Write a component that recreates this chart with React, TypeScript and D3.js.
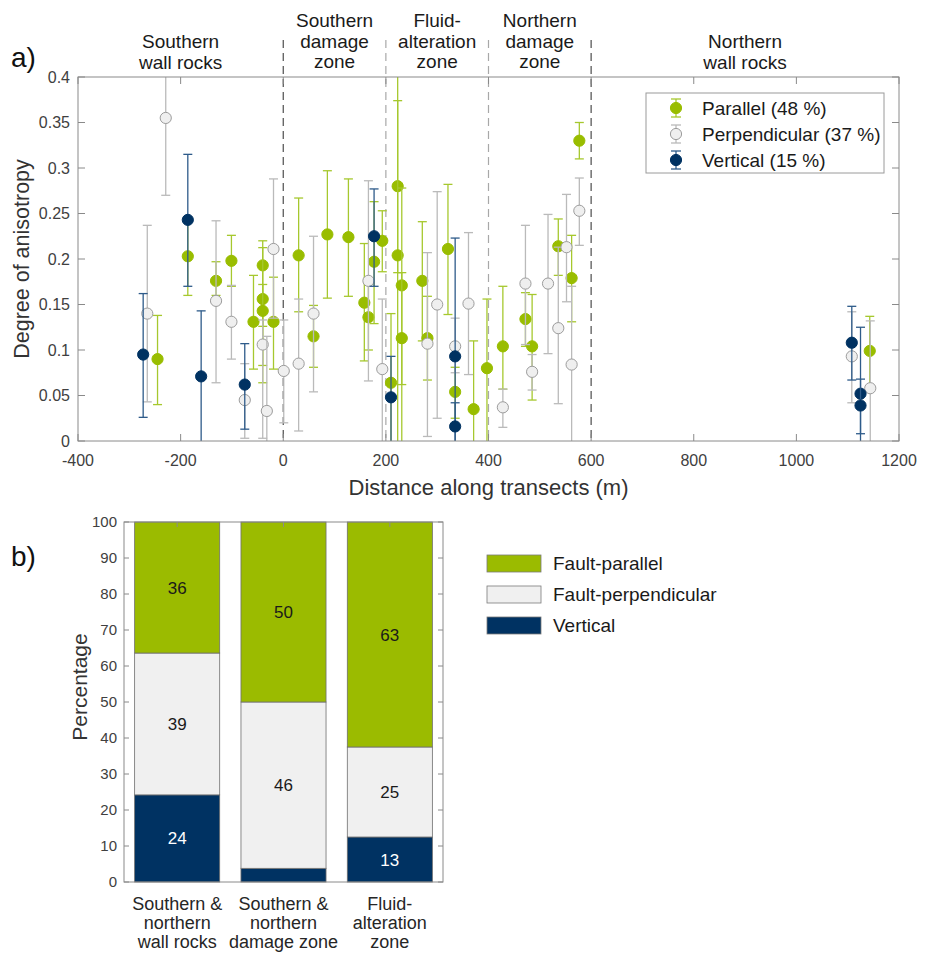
import React from "react";
import * as d3 from "d3";

// each point: [distance (m), degree of anisotropy, lower error, upper error]
const parallel = [
  [-245, 0.09, 0.04, 0.138],
  [-186, 0.203, 0.16, 0.245],
  [-131, 0.176, 0.16, 0.197],
  [-101, 0.198, 0.17, 0.226],
  [-58, 0.131, 0.079, 0.182],
  [-40, 0.193, 0.064, 0.22],
  [-40, 0.156, 0.126, 0.2125],
  [-40, 0.143, 0.083, 0.172],
  [-19, 0.131, 0.079, 0.18],
  [30, 0.204, 0.142, 0.267],
  [59, 0.115, 0.081, 0.149],
  [86, 0.227, 0.157, 0.297],
  [127, 0.224, 0.159, 0.288],
  [158, 0.152, 0.088, 0.217],
  [166, 0.136, 0.1, 0.175],
  [177, 0.197, 0.129, 0.263],
  [193, 0.22, 0.186, 0.253],
  [210, 0.064, -0.02, 0.14],
  [223, 0.28, 0.185, 0.374],
  [223, 0.204, -0.02, 0.43],
  [231, 0.171, 0.062, 0.278],
  [231, 0.113, -0.02, 0.185],
  [271, 0.176, 0.11, 0.241],
  [281, 0.113, 0.067, 0.159],
  [321, 0.211, 0.139, 0.282],
  [335, 0.054, 0.025, 0.081],
  [371, 0.035, -0.02, 0.11],
  [397, 0.08, -0.02, 0.156],
  [428, 0.104, 0.057, 0.17],
  [472, 0.134, 0.104, 0.163],
  [485, 0.104, 0.045, 0.161],
  [536, 0.214, 0.182, 0.244],
  [562, 0.179, 0.131, 0.226],
  [577, 0.33, 0.31, 0.35],
  [1143, 0.099, 0.06, 0.137],
];

const perpendicular = [
  [-265, 0.14, 0.043, 0.237],
  [-229, 0.355, 0.27, 0.44],
  [-131, 0.154, 0.064, 0.242],
  [-101, 0.131, 0.09, 0.171],
  [-75, 0.045, 0.003, 0.085],
  [-40, 0.106, 0.003, 0.133],
  [-32, 0.033, -0.02, 0.115],
  [-19, 0.211, 0.135, 0.288],
  [1, 0.077, 0.02, 0.133],
  [30, 0.085, 0.011, 0.156],
  [59, 0.14, 0.054, 0.225],
  [166, 0.176, 0.066, 0.286],
  [193, 0.079, -0.02, 0.156],
  [281, 0.107, 0.005, 0.207],
  [300, 0.15, 0.025, 0.274],
  [335, 0.104, 0.075, 0.135],
  [361, 0.151, 0.073, 0.229],
  [428, 0.037, 0.015, 0.057],
  [472, 0.173, 0.106, 0.237],
  [485, 0.076, 0.056, 0.095],
  [516, 0.173, 0.096, 0.249],
  [536, 0.124, 0.041, 0.213],
  [552, 0.213, 0.153, 0.271],
  [562, 0.084, -0.02, 0.17],
  [577, 0.253, 0.215, 0.289],
  [1108, 0.093, 0.042, 0.142],
  [1144, 0.058, -0.02, 0.132],
];

const vertical = [
  [-273, 0.095, 0.026, 0.162],
  [-186, 0.243, 0.17, 0.315],
  [-160, 0.071, -0.02, 0.143],
  [-75, 0.062, 0.013, 0.107],
  [177, 0.225, 0.17, 0.277],
  [210, 0.048, -0.02, 0.093],
  [335, 0.093, -0.02, 0.223],
  [335, 0.016, -0.02, 0.042],
  [1108, 0.108, 0.067, 0.148],
  [1125, 0.052, 0.008, 0.125],
  [1125, 0.039, -0.02, 0.068],
];

const seriesNames = ["Parallel (48 %)", "Perpendicular (37 %)", "Vertical (15 %)"];
const xTicks = [-400, -200, 0, 200, 400, 600, 800, 1000, 1200];
const yTicks = [0, 0.05, 0.1, 0.15, 0.2, 0.25, 0.3, 0.35, 0.4];
const zoneBounds = [0, 200, 400, 600];
const zoneCenters = [-200, 100, 300, 500, 900];
const zoneNames = [
  ["Southern", "wall rocks"],
  ["Southern", "damage", "zone"],
  ["Fluid-", "alteration", "zone"],
  ["Northern", "damage", "zone"],
  ["Northern", "wall rocks"],
];

// panel b
const groupLabels = [
  ["Southern &", "northern", "wall rocks"],
  ["Southern &", "northern", "damage zone"],
  ["Fluid-", "alteration", "zone"],
];
const verticalPct = [24.2, 3.8, 12.5];
const perpendicularPct = [39.4, 46.2, 25.0];
const parallelPct = [36.4, 50.0, 62.5];
const pctTicks = [0, 10, 20, 30, 40, 50, 60, 70, 80, 90, 100];
const barKeys = ["Vertical", "Fault-perpendicular", "Fault-parallel"];

const FONT = "'Liberation Sans', Arial, Helvetica, sans-serif";
const AXIS = "#8a8a8a";
const TICKTXT = "#404040";

const styles = [
  { fill: "#99bd00", stroke: "#99bd00", bar: "#a6c82e" },
  { fill: "#efefef", stroke: "#9c9c9c", bar: "#bababa" },
  { fill: "#003262", stroke: "#003262", bar: "#2e5b8a" },
];
const barFill: Record<string, string> = {
  Vertical: "#003262",
  "Fault-perpendicular": "#f0f0f0",
  "Fault-parallel": "#9bbb00",
};

const W = 925;
const H = 953;
const a = { left: 78, right: 899, top: 77, bottom: 441 };
const b = { left: 124, right: 443, top: 522, bottom: 882 };

function ErrPoint({ d, st, x, y }: any) {
  const [px, py, lo, hi] = d;
  const cx = x(px);
  const cap = 4.5;
  return (
    <g>
      <line x1={cx} x2={cx} y1={y(lo)} y2={y(hi)} stroke={st.bar} strokeWidth={1.3} />
      <line x1={cx - cap} x2={cx + cap} y1={y(lo)} y2={y(lo)} stroke={st.bar} strokeWidth={1.3} />
      <line x1={cx - cap} x2={cx + cap} y1={y(hi)} y2={y(hi)} stroke={st.bar} strokeWidth={1.3} />
      <circle cx={cx} cy={y(py)} r={5.6} fill={st.fill} stroke={st.stroke} strokeWidth={1} />
    </g>
  );
}

export default function App() {
  const x = d3.scaleLinear().domain([-400, 1200]).range([a.left, a.right]);
  const y = d3.scaleLinear().domain([0, 0.4]).range([a.bottom, a.top]);

  const band = d3
    .scaleBand<number>()
    .domain([0, 1, 2])
    .range([b.left, b.right])
    .paddingInner(0.2)
    .paddingOuter(0.1);
  const yb = d3.scaleLinear().domain([0, 100]).range([b.bottom, b.top]);

  const rows = groupLabels.map((_, i) => ({
    i,
    Vertical: verticalPct[i],
    "Fault-perpendicular": perpendicularPct[i],
    "Fault-parallel": parallelPct[i],
  }));
  const stacked = d3.stack<any>().keys(barKeys)(rows);

  const allSeries = [parallel, perpendicular, vertical];

  return (
    <svg
      width={W}
      height={H}
      style={{ position: "absolute", left: 0, top: 0, background: "#fff" }}
      fontFamily={FONT}
    >
      <defs>
        <clipPath id="clipA">
          <rect x={a.left} y={a.top} width={a.right - a.left} height={a.bottom - a.top} />
        </clipPath>
      </defs>
      <rect width={W} height={H} fill="#fff" />

      {/* ---------- panel a ---------- */}
      <text x={11} y={67} fontSize={28} fill="#111">a)</text>

      {zoneNames.map((lines, i) => {
        const base = lines.length === 3 ? 27 : 48;
        return (
          <text key={i} x={x(zoneCenters[i])} textAnchor="middle" fontSize={19} fill="#1a1a1a">
            {lines.map((l, j) => (
              <tspan key={j} x={x(zoneCenters[i])} y={base + j * 20.5}>{l}</tspan>
            ))}
          </text>
        );
      })}

      {zoneBounds.map((v) => (
        <line
          key={v}
          x1={x(v)}
          x2={x(v)}
          y1={40}
          y2={a.bottom}
          stroke={v === 0 || v === 600 ? "#4d4d4d" : "#a8a8a8"}
          strokeWidth={1.2}
          strokeDasharray="8,5"
        />
      ))}

      <g clipPath="url(#clipA)">
        {allSeries.map((s, si) =>
          s.map((d, i) => <ErrPoint key={`${si}-${i}`} d={d} st={styles[si]} x={x} y={y} />)
        )}
      </g>

      {/* box and ticks */}
      <rect x={a.left} y={a.top} width={a.right - a.left} height={a.bottom - a.top} fill="none" stroke={AXIS} strokeWidth={1} />
      {xTicks.map((t) => (
        <g key={t}>
          <line x1={x(t)} x2={x(t)} y1={a.bottom} y2={a.bottom - 7} stroke={AXIS} />
          <line x1={x(t)} x2={x(t)} y1={a.top} y2={a.top + 7} stroke={AXIS} />
          <text x={x(t)} y={466} textAnchor="middle" fontSize={16} fill={TICKTXT}>{t}</text>
        </g>
      ))}
      {yTicks.map((t) => (
        <g key={t}>
          <line x1={a.left} x2={a.left + 7} y1={y(t)} y2={y(t)} stroke={AXIS} />
          <line x1={a.right} x2={a.right - 7} y1={y(t)} y2={y(t)} stroke={AXIS} />
          <text x={70} y={y(t) + 5.5} textAnchor="end" fontSize={16} fill={TICKTXT}>{t}</text>
        </g>
      ))}
      <text x={(a.left + a.right) / 2} y={495} textAnchor="middle" fontSize={22} fill="#333">
        Distance along transects (m)
      </text>
      <text
        transform={`translate(29,${(a.top + a.bottom) / 2}) rotate(-90)`}
        textAnchor="middle"
        fontSize={21.5}
        fill="#333"
      >
        Degree of anisotropy
      </text>

      {/* legend a */}
      <rect x={646} y={93} width={238} height={80} fill="#fff" stroke="#9a9a9a" strokeWidth={1} />
      {seriesNames.map((n, i) => {
        const cy = 108 + i * 26;
        const st = styles[i];
        return (
          <g key={n}>
            <line x1={676} x2={676} y1={cy - 9} y2={cy + 9} stroke={st.bar} strokeWidth={1.3} />
            <line x1={671} x2={681} y1={cy - 9} y2={cy - 9} stroke={st.bar} strokeWidth={1.3} />
            <line x1={671} x2={681} y1={cy + 9} y2={cy + 9} stroke={st.bar} strokeWidth={1.3} />
            <circle cx={676} cy={cy} r={5.6} fill={st.fill} stroke={st.stroke} />
            <text x={702} y={cy + 7} fontSize={19} fill="#1a1a1a">{n}</text>
          </g>
        );
      })}

      {/* ---------- panel b ---------- */}
      <text x={11} y={566} fontSize={28} fill="#111">b)</text>

      {stacked.map((layer) =>
        layer.map((seg, i) => {
          const val = seg[1] - seg[0];
          const bx = band(i)!;
          const key = layer.key;
          return (
            <g key={`${key}-${i}`}>
              <rect
                x={bx}
                y={yb(seg[1])}
                width={band.bandwidth()}
                height={yb(seg[0]) - yb(seg[1])}
                fill={barFill[key]}
                stroke="#6e6e6e"
                strokeWidth={0.8}
              />
              {val >= 5 && (
                <text
                  x={bx + band.bandwidth() / 2}
                  y={(yb(seg[0]) + yb(seg[1])) / 2 + 6}
                  textAnchor="middle"
                  fontSize={17}
                  fill={key === "Vertical" ? "#fff" : "#1a1a1a"}
                >
                  {Math.round(val)}
                </text>
              )}
            </g>
          );
        })
      )}

      <rect x={b.left} y={b.top} width={b.right - b.left} height={b.bottom - b.top} fill="none" stroke={AXIS} strokeWidth={1} />
      {pctTicks.map((t) => (
        <g key={t}>
          <line x1={b.left} x2={b.left + 5} y1={yb(t)} y2={yb(t)} stroke={AXIS} />
          <line x1={b.right} x2={b.right - 5} y1={yb(t)} y2={yb(t)} stroke={AXIS} />
          <text x={117} y={yb(t) + 5} textAnchor="end" fontSize={15} fill={TICKTXT}>{t}</text>
        </g>
      ))}
      {groupLabels.map((lines, i) => {
        const cx = band(i)! + band.bandwidth() / 2;
        return (
          <g key={i}>
            <line x1={cx} x2={cx} y1={b.top} y2={b.top + 5} stroke={AXIS} />
            <text textAnchor="middle" fontSize={18} fill="#262626">
              {lines.map((l, j) => (
                <tspan key={j} x={cx} y={910 + j * 19}>{l}</tspan>
              ))}
            </text>
          </g>
        );
      })}
      <text
        transform={`translate(87,687) rotate(-90)`}
        textAnchor="middle"
        fontSize={21}
        fill="#333"
      >
        Percentage
      </text>

      {/* legend b */}
      {[...barKeys].reverse().map((k, i) => {
        const ty = 555 + i * 31;
        return (
          <g key={k}>
            <rect x={487} y={ty} width={54} height={17} fill={barFill[k]} stroke="#7a7a7a" strokeWidth={0.8} />
            <text x={553} y={ty + 15} fontSize={19} fill="#1a1a1a">{k}</text>
          </g>
        );
      })}
    </svg>
  );
}
